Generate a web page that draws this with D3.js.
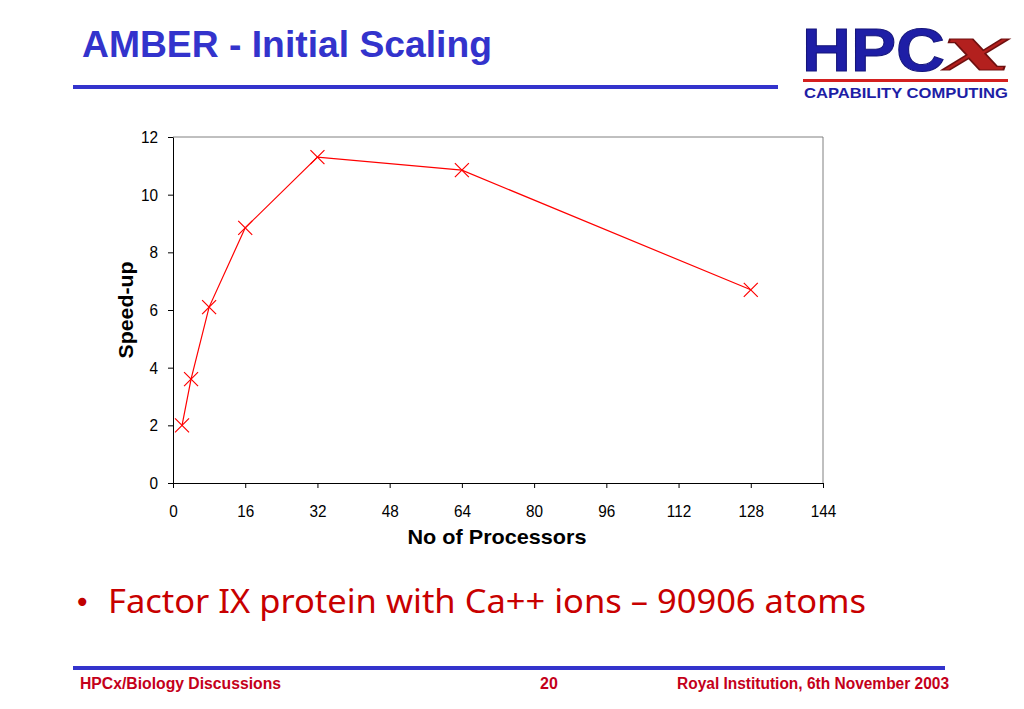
<!DOCTYPE html>
<html>
<head>
<meta charset="utf-8">
<script src="https://cdnjs.cloudflare.com/ajax/libs/d3/7.8.5/d3.min.js"></script>
<style>
  body { margin: 0; background: #fff; }
  svg { display: block; }
</style>
</head>
<body>
<div id="viz"></div>
<script>
// values
var procs   = [2, 4, 8, 16, 32, 64, 128];
var speedup = [2.0, 3.6, 6.1, 8.85, 11.3, 10.85, 6.7];
var xTicks  = [0, 16, 32, 48, 64, 80, 96, 112, 128, 144];
var yTicks  = [0, 2, 4, 6, 8, 10, 12];

var W = 1024, H = 709;
var svg = d3.select("#viz").append("svg").attr("width", W).attr("height", H);

// squeeze or stretch a text to a measured width
function fit(sel, w) {
  sel.attr("textLength", w).attr("lengthAdjust", "spacingAndGlyphs");
  return sel;
}

var blue = "#3333cc", red = "#c4001a";

// title + rule
fit(svg.append("text").attr("x", 82).attr("y", 57)
  .style("font", "bold 37px 'Liberation Sans', Arial, sans-serif")
  .style("fill", blue).text("AMBER - Initial Scaling"), 410);
svg.append("rect").attr("x", 73).attr("y", 85).attr("width", 705).attr("height", 4).attr("fill", blue);

// logo
var logo = svg.append("g");
fit(logo.append("text").attr("x", 802).attr("y", 71)
  .style("font", "bold 62px 'Liberation Sans', Arial, sans-serif")
  .style("fill", "#1e1ea6").style("stroke", "#14147a").style("stroke-width", 1)
  .text("HPC"), 143);
fit(logo.append("text").attr("x", 944).attr("y", 70)
  .style("font", "italic bold 60px 'DejaVu Serif', serif")
  .style("fill", "#b3201e").style("stroke", "#6e0f0f").style("stroke-width", 1.2)
  .text("x"), 64);
logo.append("rect").attr("x", 803).attr("y", 79).attr("width", 205).attr("height", 3).attr("fill", "#d42020");
fit(logo.append("text").attr("x", 804).attr("y", 98)
  .style("font", "bold 15px 'Liberation Sans', Arial, sans-serif")
  .style("fill", "#1e1ea6").text("CAPABILITY COMPUTING"), 204);

// chart
var m = { left: 173, top: 137, right: 823, bottom: 483 };
var x = d3.scaleLinear().domain([0, 144]).range([m.left, m.right]);
var y = d3.scaleLinear().domain([0, 12]).range([m.bottom, m.top]);

var plot = svg.append("g");
plot.append("line").attr("x1", m.left).attr("x2", m.right).attr("y1", m.top).attr("y2", m.top)
  .attr("stroke", "#808080");
plot.append("line").attr("x1", m.right).attr("x2", m.right).attr("y1", m.top).attr("y2", m.bottom)
  .attr("stroke", "#808080");

var ax = plot.append("g").attr("transform", "translate(0," + m.bottom + ")")
  .call(d3.axisBottom(x).tickValues(xTicks).tickSize(5).tickPadding(17).tickSizeOuter(0));
var ay = plot.append("g").attr("transform", "translate(" + m.left + ",0)")
  .call(d3.axisLeft(y).tickValues(yTicks).tickSize(5).tickPadding(10).tickSizeOuter(0));
[ax, ay].forEach(function (a) {
  a.select(".domain").attr("stroke", "#000");
  a.selectAll(".tick line").attr("stroke", "#000");
  a.selectAll("text").style("font", "17px 'Liberation Sans', Arial, sans-serif").attr("fill", "#000")
    .each(function () {
      fit(d3.select(this), this.getComputedTextLength() * 0.9);
    });
});

var pts = procs.map(function (p, i) { return [p, speedup[i]]; });
plot.append("path").datum(pts)
  .attr("d", d3.line().x(function (d) { return x(d[0]); }).y(function (d) { return y(d[1]); }))
  .attr("fill", "none").attr("stroke", "#ff0000").attr("stroke-width", 1.2);
var s = 7;
plot.selectAll("path.mk").data(pts).enter().append("path").attr("class", "mk")
  .attr("d", function (d) {
    var cx = x(d[0]), cy = y(d[1]);
    return "M" + (cx - s) + "," + (cy - s) + "L" + (cx + s) + "," + (cy + s) +
           "M" + (cx - s) + "," + (cy + s) + "L" + (cx + s) + "," + (cy - s);
  })
  .attr("stroke", "#ff0000").attr("stroke-width", 1.2).attr("fill", "none");

fit(svg.append("text").attr("x", 497).attr("y", 544).attr("text-anchor", "middle")
  .style("font", "bold 21px 'Liberation Sans', Arial, sans-serif").text("No of Processors"), 179);
fit(svg.append("text").attr("transform", "translate(133,310) rotate(-90)").attr("text-anchor", "middle")
  .style("font", "bold 21px 'Liberation Sans', Arial, sans-serif").text("Speed-up"), 97);

// bullet
svg.append("text").attr("x", 74).attr("y", 612)
  .style("font", "28px 'DejaVu Sans', sans-serif").style("fill", "#c00000").text("\u2022");
fit(svg.append("text").attr("x", 108).attr("y", 613)
  .style("font", "33px 'Comic Sans MS', 'Noto Sans', sans-serif").style("fill", "#c80000")
  .text("Factor IX protein with Ca++ ions \u2013 90906 atoms"), 758);

// footer
svg.append("rect").attr("x", 73).attr("y", 666).attr("width", 872).attr("height", 4).attr("fill", blue);
var ff = "bold 16px 'Liberation Sans', Arial, sans-serif";
fit(svg.append("text").attr("x", 80).attr("y", 689).style("font", ff).style("fill", red)
  .text("HPCx/Biology Discussions"), 201);
svg.append("text").attr("x", 549).attr("y", 689).attr("text-anchor", "middle")
  .style("font", ff).style("fill", red).text("20");
fit(svg.append("text").attr("x", 677).attr("y", 689).style("font", ff).style("fill", red)
  .text("Royal Institution, 6th November 2003"), 272);
</script>
</body>
</html>
